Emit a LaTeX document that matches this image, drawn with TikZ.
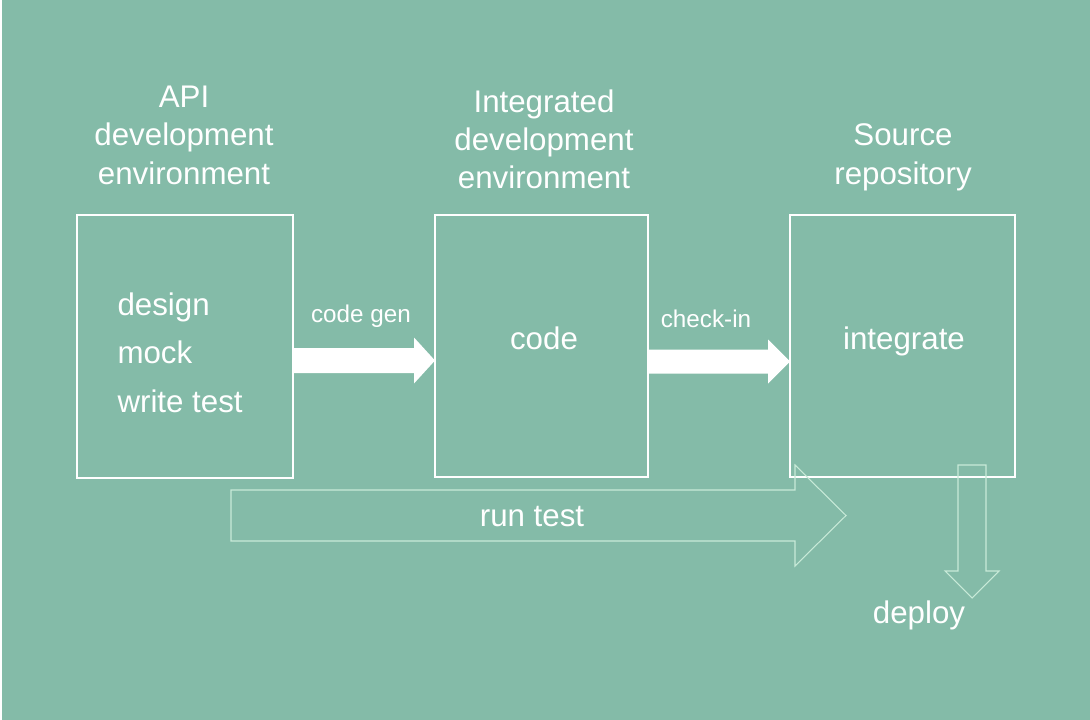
\documentclass[tikz,border=0pt]{standalone}
\usepackage{fontspec}
\setmainfont{Liberation Sans}
\usetikzlibrary{calc, positioning}
\definecolor{cbg}{HTML}{84BBA8}
\definecolor{cmint}{HTML}{C8EAD8}
\tikzset{
  every picture/.style={line width=0.6pt},
  box/.style={draw=white, inner sep=0pt, outer sep=0pt},
  head/.style={text=white, align=center, inner sep=0pt, font=\fontsize{17.8}{21.9}\selectfont},
  task/.style={text=white, inner sep=0pt, font=\fontsize{17.8}{21.9}\selectfont},
  flow/.style={text=white, inner sep=0pt, font=\fontsize{13.8}{16}\selectfont},
  solid arrow/.style={fill=white},
  hollow arrow/.style={draw=cmint, line width=0.6pt, line join=miter},
}
\newcommand{\blockarrow}[6]{ % style, from, to, shaft half, head half, head length
  \coordinate (ba-h) at ($(#3)!#6!(#2)$);
  \path[#1] ($(#2)!#4!-90:(#3)$) -- ($(ba-h)!#4!-90:(#3)$) -- ($(ba-h)!#5!-90:(#3)$) -- (#3)
    -- ($(ba-h)!#5!90:(#3)$) -- ($(ba-h)!#4!90:(#3)$) -- ($(#2)!#4!90:(#3)$) -- cycle;
}

\begin{document}
\begin{tikzpicture}[x=0.2mm, y=-0.2mm]
  \fill[cbg] (0,0) rectangle (1090,720);
  \useasboundingbox (0,0) rectangle (1090,720);
  \draw[white, line width=0.5mm] (0.5,0) -- (0.5,720);
  % boxes
  \node[box, minimum width=43.2mm, minimum height=52.6mm] (api) at (185,346.5) {};
  \node[box, minimum width=42.6mm, minimum height=52.4mm] (ide) at (541.5,346) {};
  \node[box, minimum width=45mm, minimum height=52.4mm] (repo) at (902.5,346) {};
  % titles (base = last line)
  \node[head, anchor=base] (apititle) at (184,184) {API\\development\\environment};
  \node[head, anchor=base] (idetitle) at (544,189) {Integrated\\development\\environment};
  \node[head, anchor=base] (repotitle) at (903,184) {Source\\repository};
  % what happens in each
  \node[task, anchor=base west] (design) at (117,315) {design};
  \node[task, anchor=base west] (mock) at (117,363) {mock};
  \node[task, anchor=base west] (wtest) at (117,412) {write test};
  \node[task, anchor=base] (code) at (544,349) {code};
  \node[task, anchor=base] (integ) at (904,349) {integrate};
  % hand-over arrows
  \coordinate (gen0) at (api.east |- 0,360.5);
  \coordinate (gen1) at (ide.west |- 0,360.5);
  \blockarrow{solid arrow}{gen0}{gen1}{2.5mm}{4.6mm}{4.2mm}
  \node[flow, anchor=base] (codegen) at (361,322) {code gen};
  \coordinate (chk0) at (ide.east |- 0,361.5);
  \coordinate (chk1) at (repo.west |- 0,361.5);
  \blockarrow{solid arrow}{chk0}{chk1}{2.4mm}{4.4mm}{4.4mm}
  \node[flow, anchor=base] (checkin) at (706,327) {check-in};
  % run test, deploy
  \coordinate (rt0) at (231,515.5);
  \coordinate (rt1) at (846,515.5);
  \blockarrow{hollow arrow}{rt0}{rt1}{5.1mm}{10.1mm}{10.2mm}
  \node[task, anchor=base] (runtest) at (532,526) {run test};
  \coordinate (dp0) at (972,465);
  \coordinate (dp1) at (972,598);
  \blockarrow{hollow arrow}{dp0}{dp1}{2.8mm}{5.4mm}{5.4mm}
  \node[task, anchor=base] (deploy) at (919,623) {deploy};
\end{tikzpicture}
\end{document}
